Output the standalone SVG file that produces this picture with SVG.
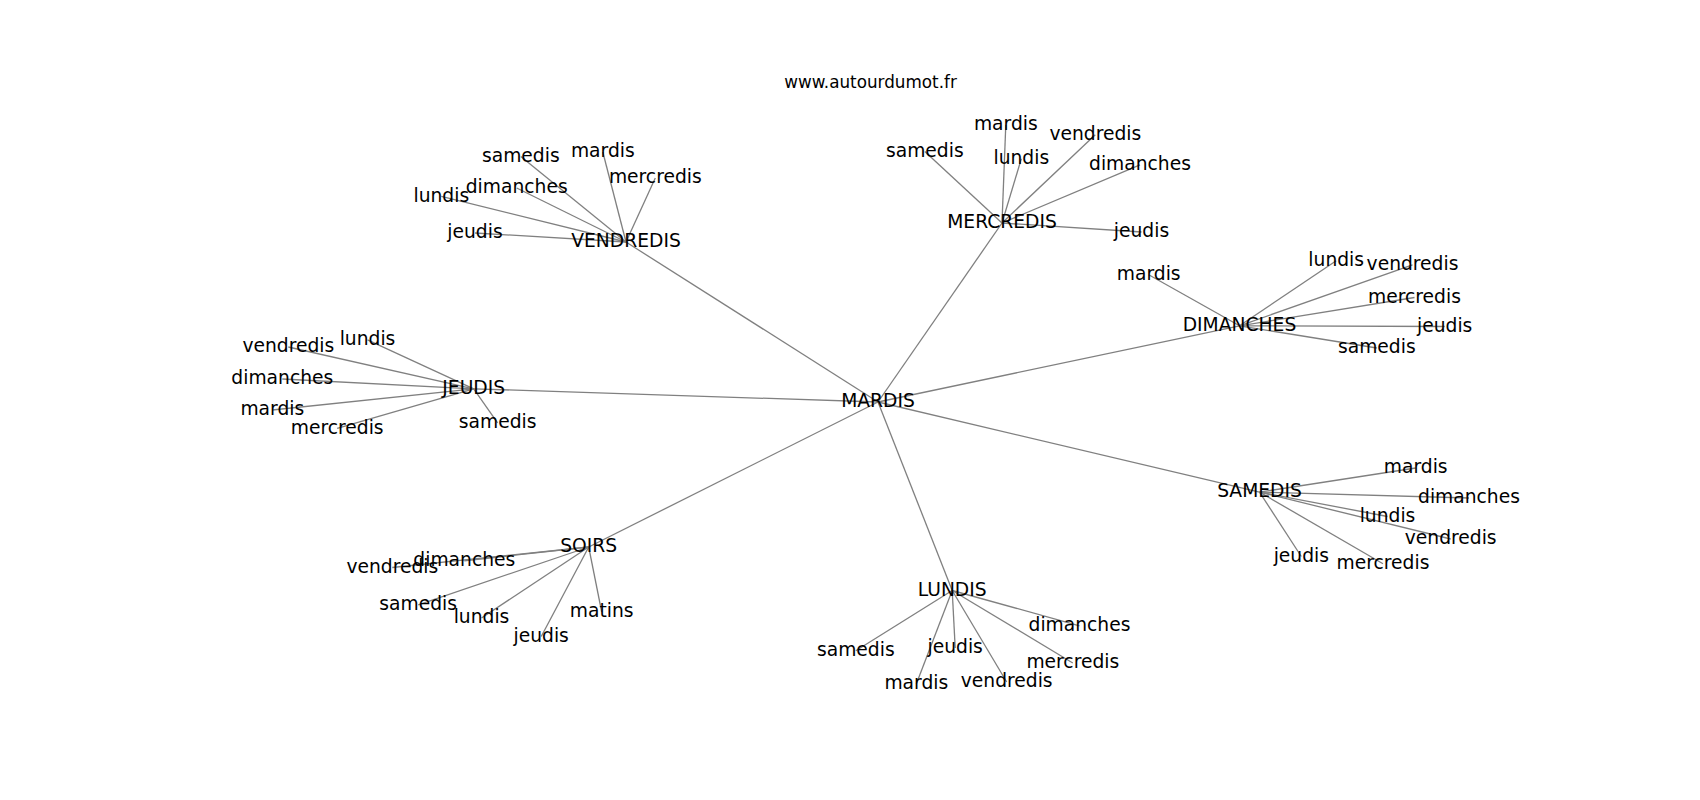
<svg xmlns="http://www.w3.org/2000/svg" width="1700" height="800" viewBox="0 0 1700 800">
<style>
text{font-family:"DejaVu Sans","Liberation Sans",sans-serif;font-size:18.7px;fill:#000;text-anchor:middle}
.title{font-size:16.8px}
.e line{stroke:#808080;stroke-width:1.3}
</style>
<rect width="1700" height="800" fill="#fff"/>
<text class="title" x="870.5" y="87.5">www.autourdumot.fr</text>
<g id="connectors" class="e">
<line x1="878" y1="402" x2="626" y2="242"/>
<line x1="878" y1="402" x2="1002" y2="223"/>
<line x1="878" y1="402" x2="1239.5" y2="325.8"/>
<line x1="878" y1="402" x2="473.7" y2="388.8"/>
<line x1="878" y1="402" x2="588.7" y2="547"/>
<line x1="878" y1="402" x2="952.2" y2="590.5"/>
<line x1="878" y1="402" x2="1259.5" y2="492.1"/>
<line x1="626" y1="242" x2="520.8" y2="156.5"/>
<line x1="626" y1="242" x2="602.8" y2="152"/>
<line x1="626" y1="242" x2="655.3" y2="178"/>
<line x1="626" y1="242" x2="516.7" y2="188"/>
<line x1="626" y1="242" x2="441.3" y2="196.4"/>
<line x1="626" y1="242" x2="475" y2="233"/>
<line x1="1002" y1="223" x2="1005.8" y2="124.8"/>
<line x1="1002" y1="223" x2="1095.3" y2="134.8"/>
<line x1="1002" y1="223" x2="924.8" y2="151.5"/>
<line x1="1002" y1="223" x2="1021.3" y2="158.8"/>
<line x1="1002" y1="223" x2="1140" y2="164.8"/>
<line x1="1002" y1="223" x2="1141.5" y2="232"/>
<line x1="1239.5" y1="325.8" x2="1148.7" y2="274.8"/>
<line x1="1239.5" y1="325.8" x2="1336.2" y2="260.8"/>
<line x1="1239.5" y1="325.8" x2="1412.5" y2="264.8"/>
<line x1="1239.5" y1="325.8" x2="1414.5" y2="297.5"/>
<line x1="1239.5" y1="325.8" x2="1444.7" y2="326.5"/>
<line x1="1239.5" y1="325.8" x2="1376.8" y2="348"/>
<line x1="473.7" y1="388.8" x2="367.5" y2="339.8"/>
<line x1="473.7" y1="388.8" x2="288.3" y2="347"/>
<line x1="473.7" y1="388.8" x2="282.3" y2="379"/>
<line x1="473.7" y1="388.8" x2="272.3" y2="410"/>
<line x1="473.7" y1="388.8" x2="337.2" y2="428.3"/>
<line x1="473.7" y1="388.8" x2="497.6" y2="422.8"/>
<line x1="588.7" y1="547" x2="464.3" y2="560.8"/>
<line x1="588.7" y1="547" x2="392.3" y2="567.5"/>
<line x1="588.7" y1="547" x2="418.2" y2="604.8"/>
<line x1="588.7" y1="547" x2="481.5" y2="618"/>
<line x1="588.7" y1="547" x2="541.2" y2="636.5"/>
<line x1="588.7" y1="547" x2="601.7" y2="612"/>
<line x1="952.2" y1="590.5" x2="1079.5" y2="625.8"/>
<line x1="952.2" y1="590.5" x2="855.8" y2="650.8"/>
<line x1="952.2" y1="590.5" x2="955.2" y2="648"/>
<line x1="952.2" y1="590.5" x2="1072.8" y2="663"/>
<line x1="952.2" y1="590.5" x2="916.3" y2="684"/>
<line x1="952.2" y1="590.5" x2="1006.7" y2="682"/>
<line x1="1259.5" y1="492.1" x2="1415.7" y2="468"/>
<line x1="1259.5" y1="492.1" x2="1469" y2="498"/>
<line x1="1259.5" y1="492.1" x2="1387.5" y2="516.5"/>
<line x1="1259.5" y1="492.1" x2="1450.7" y2="539"/>
<line x1="1259.5" y1="492.1" x2="1301.3" y2="556.5"/>
<line x1="1259.5" y1="492.1" x2="1383" y2="563.8"/>
</g>
<g id="n-MARDIS"><text x="878" y="407.3">MARDIS</text></g>
<g id="n-VENDREDIS"><text x="626" y="247.3">VENDREDIS</text></g>
<g id="n-MERCREDIS"><text x="1002" y="228.3">MERCREDIS</text></g>
<g id="n-DIMANCHES"><text x="1239.5" y="331.1">DIMANCHES</text></g>
<g id="n-JEUDIS"><text x="473.7" y="394.1">JEUDIS</text></g>
<g id="n-SOIRS"><text x="588.7" y="552.3">SOIRS</text></g>
<g id="n-LUNDIS"><text x="952.2" y="595.8">LUNDIS</text></g>
<g id="n-SAMEDIS"><text x="1259.5" y="497.4">SAMEDIS</text></g>
<g id="n-v-samedis"><text x="520.8" y="161.8">samedis</text></g>
<g id="n-v-mardis"><text x="602.8" y="157.3">mardis</text></g>
<g id="n-v-mercredis"><text x="655.3" y="183.3">mercredis</text></g>
<g id="n-v-dimanches"><text x="516.7" y="193.3">dimanches</text></g>
<g id="n-v-lundis"><text x="441.3" y="201.7">lundis</text></g>
<g id="n-v-jeudis"><text x="475" y="238.3">jeudis</text></g>
<g id="n-me-mardis"><text x="1005.8" y="130.1">mardis</text></g>
<g id="n-me-vendredis"><text x="1095.3" y="140.1">vendredis</text></g>
<g id="n-me-samedis"><text x="924.8" y="156.8">samedis</text></g>
<g id="n-me-lundis"><text x="1021.3" y="164.1">lundis</text></g>
<g id="n-me-dimanches"><text x="1140" y="170.1">dimanches</text></g>
<g id="n-me-jeudis"><text x="1141.5" y="237.3">jeudis</text></g>
<g id="n-d-mardis"><text x="1148.7" y="280.1">mardis</text></g>
<g id="n-d-lundis"><text x="1336.2" y="266.1">lundis</text></g>
<g id="n-d-vendredis"><text x="1412.5" y="270.1">vendredis</text></g>
<g id="n-d-mercredis"><text x="1414.5" y="302.8">mercredis</text></g>
<g id="n-d-jeudis"><text x="1444.7" y="331.8">jeudis</text></g>
<g id="n-d-samedis"><text x="1376.8" y="353.3">samedis</text></g>
<g id="n-j-lundis"><text x="367.5" y="345.1">lundis</text></g>
<g id="n-j-vendredis"><text x="288.3" y="352.3">vendredis</text></g>
<g id="n-j-dimanches"><text x="282.3" y="384.3">dimanches</text></g>
<g id="n-j-mardis"><text x="272.3" y="415.3">mardis</text></g>
<g id="n-j-mercredis"><text x="337.2" y="433.6">mercredis</text></g>
<g id="n-j-samedis"><text x="497.6" y="428.1">samedis</text></g>
<g id="n-s-dimanches"><text x="464.3" y="566.1">dimanches</text></g>
<g id="n-s-vendredis"><text x="392.3" y="572.8">vendredis</text></g>
<g id="n-s-samedis"><text x="418.2" y="610.1">samedis</text></g>
<g id="n-s-lundis"><text x="481.5" y="623.3">lundis</text></g>
<g id="n-s-jeudis"><text x="541.2" y="641.8">jeudis</text></g>
<g id="n-s-matins"><text x="601.7" y="617.3">matins</text></g>
<g id="n-l-dimanches"><text x="1079.5" y="631.1">dimanches</text></g>
<g id="n-l-samedis"><text x="855.8" y="656.1">samedis</text></g>
<g id="n-l-jeudis"><text x="955.2" y="653.3">jeudis</text></g>
<g id="n-l-mercredis"><text x="1072.8" y="668.3">mercredis</text></g>
<g id="n-l-mardis"><text x="916.3" y="689.3">mardis</text></g>
<g id="n-l-vendredis"><text x="1006.7" y="687.3">vendredis</text></g>
<g id="n-sa-mardis"><text x="1415.7" y="473.3">mardis</text></g>
<g id="n-sa-dimanches"><text x="1469" y="503.3">dimanches</text></g>
<g id="n-sa-lundis"><text x="1387.5" y="521.8">lundis</text></g>
<g id="n-sa-vendredis"><text x="1450.7" y="544.3">vendredis</text></g>
<g id="n-sa-jeudis"><text x="1301.3" y="561.8">jeudis</text></g>
<g id="n-sa-mercredis"><text x="1383" y="569.1">mercredis</text></g>
</svg>
